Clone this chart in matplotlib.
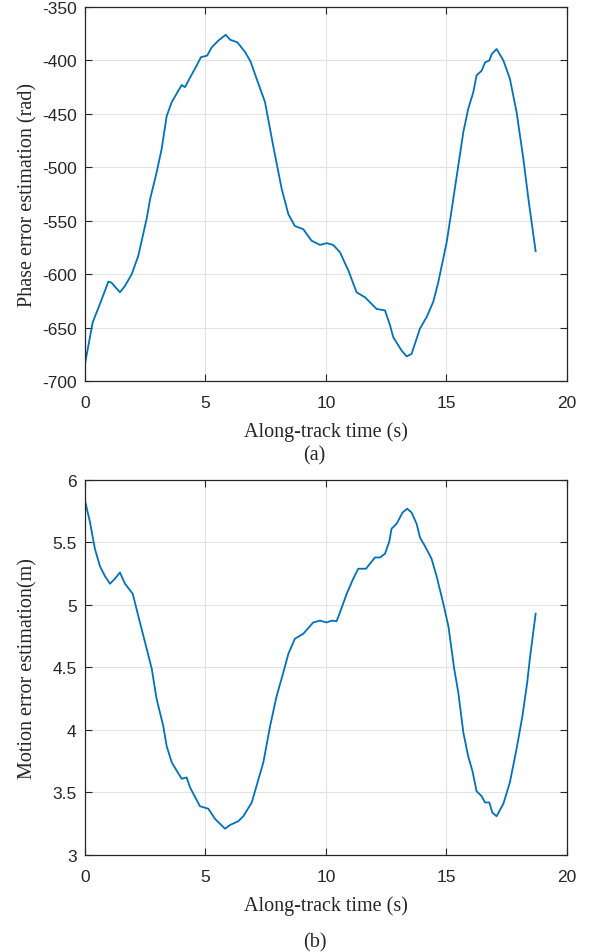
import numpy as np
import matplotlib
matplotlib.use('Agg')
import matplotlib.pyplot as plt

# (a) phase error estimation
t_a = [0.0, 0.32, 0.62, 0.97, 1.1, 1.45, 1.66, 1.94, 2.21, 2.56, 2.70, 2.97, 3.18, 3.39, 3.60,
       4.01, 4.15, 4.36, 4.63, 4.81, 5.07, 5.25, 5.53, 5.84, 6.02, 6.32, 6.64, 6.87, 7.12,
       7.47, 7.81, 8.16, 8.44, 8.71, 9.06, 9.40, 9.75, 10.03, 10.30, 10.58, 10.93, 11.27,
       11.62, 12.10, 12.45, 12.66, 12.79, 13.14, 13.35, 13.55, 13.90, 14.18, 14.45, 14.66,
       15.01, 15.22, 15.49, 15.70, 15.90, 16.11, 16.25, 16.46, 16.60, 16.78, 16.88, 17.08,
       17.36, 17.63, 17.91, 18.19, 18.40, 18.70]
phase = [-684, -645, -628, -607, -608, -617, -611, -600, -583, -548, -530, -505, -483, -452, -439,
         -423, -425, -416, -405, -397, -395.5, -388, -381.5, -376, -380.6, -383, -392, -401, -417,
         -439, -480, -520, -544, -555, -558, -568.7, -572.7, -571, -572.7, -579.5, -596.7, -617,
         -621.7, -632.6, -634, -648, -659, -671.6, -677, -674.7, -651, -640, -626, -607.6,
         -570, -539, -498.5, -467, -445.5, -430, -414, -409.6, -401.8, -400, -394, -389.3,
         -400, -417, -448.5, -492, -529.7, -578.6]

# (b) motion error estimation
t_b = [0.0, 0.21, 0.41, 0.62, 0.83, 1.04, 1.24, 1.45, 1.66, 1.98, 2.28, 2.56, 2.77, 2.97, 3.25,
       3.39, 3.60, 4.01, 4.22, 4.36, 4.77, 5.12, 5.39, 5.81, 6.02, 6.36, 6.57, 6.92, 7.40,
       7.68, 7.95, 8.23, 8.44, 8.71, 9.06, 9.47, 9.75, 10.03, 10.24, 10.44, 10.58, 10.86,
       11.13, 11.34, 11.66, 12.03, 12.24, 12.45, 12.63, 12.72, 12.93, 13.18, 13.37, 13.55,
       13.76, 13.90, 14.11, 14.38, 14.59, 14.87, 15.08, 15.32, 15.49, 15.70, 15.90, 16.08,
       16.25, 16.46, 16.60, 16.78, 16.90, 17.08, 17.36, 17.63, 17.91, 18.15, 18.35, 18.46, 18.70]
motion = [5.834, 5.66, 5.45, 5.31, 5.23, 5.17, 5.21, 5.26, 5.17, 5.09, 4.86, 4.65, 4.49, 4.25, 4.03,
          3.87, 3.74, 3.61, 3.62, 3.54, 3.39, 3.37, 3.29, 3.21, 3.24, 3.27, 3.31, 3.42, 3.74,
          4.03, 4.27, 4.46, 4.61, 4.73, 4.77, 4.86, 4.875, 4.86, 4.875, 4.87, 4.94, 5.09,
          5.21, 5.29, 5.29, 5.38, 5.38, 5.41, 5.51, 5.61, 5.65, 5.74, 5.77, 5.74,
          5.65, 5.54, 5.47, 5.37, 5.23, 5.01, 4.83, 4.49, 4.30, 3.98, 3.79, 3.67,
          3.51, 3.47, 3.42, 3.42, 3.34, 3.31, 3.41, 3.58, 3.85, 4.11, 4.38, 4.57, 4.93]

blue = '#0072BD'
dark = '#262626'

fig = plt.figure(figsize=(5.89, 9.53), dpi=100)
ax1 = fig.add_axes([0.1443, 0.5992, 0.8183, 0.3924])
ax2 = fig.add_axes([0.1443, 0.1018, 0.8183, 0.3935])

def style(ax, ylab, yticks):
    ax.set_xlim(0, 20)
    ax.set_xticks([0, 5, 10, 15, 20])
    ax.set_ylim(yticks[0], yticks[-1])
    ax.set_yticks(yticks)
    ax.grid(True, color='#e3e3e3', linewidth=0.8)
    ax.set_axisbelow(True)
    ax.tick_params(direction='in', top=True, right=True, length=5, width=0.8,
                   labelsize=12.5, colors=dark, pad=6)
    ax.tick_params(axis='x', pad=10)
    for lab in ax.get_xticklabels() + ax.get_yticklabels():
        lab.set_family('Liberation Sans')
    for s in ax.spines.values():
        s.set_color(dark)
        s.set_linewidth(0.9)
    ax.set_xlabel('Along-track time (s)', family='Liberation Serif', fontsize=14.5, color=dark)
    ax.set_ylabel(ylab, family='Liberation Serif', fontsize=14.5, color=dark)
    ax.xaxis.set_label_coords(0.5, -0.108)
    ax.yaxis.set_label_coords(-0.098, 0.5)

ax1.plot(t_a, phase, color=blue, linewidth=1.3)
style(ax1, 'Phase error estimation (rad)', [-700, -650, -600, -550, -500, -450, -400, -350])
ax1.set_yticklabels(['-700', '-650', '-600', '-550', '-500', '-450', '-400', '-350'], family='Liberation Sans')

ax2.plot(t_b, motion, color=blue, linewidth=1.3)
style(ax2, 'Motion error estimation(m)', [3, 3.5, 4, 4.5, 5, 5.5, 6])
ax2.set_yticklabels(['3', '3.5', '4', '4.5', '5', '5.5', '6'], family='Liberation Sans')

fig.text(0.533, 1 - 456 / 953, '(a)', family='Liberation Serif', fontsize=14.5,
         ha='center', va='center', color=dark)
fig.text(0.535, 1 - 943 / 953, '(b)', family='Liberation Serif', fontsize=14.5,
         ha='center', va='center', color=dark)

fig.savefig('out.png', dpi=100)
